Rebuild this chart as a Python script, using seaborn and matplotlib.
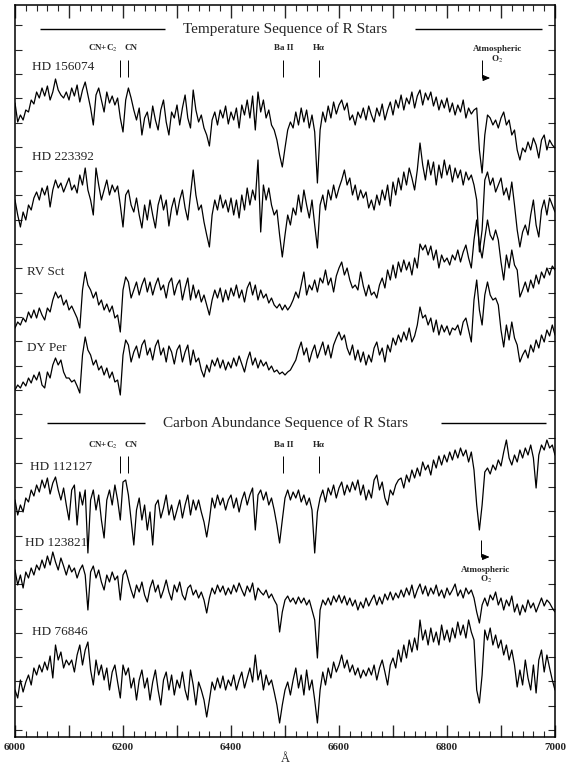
import numpy as np
import pandas as pd
import seaborn as sns
import matplotlib.pyplot as plt

# sampling grid of the spectra (Angstrom)
wavelength = np.arange(6000, 7001, 5)

stars = ["HD 156074", "HD 223392", "RV Sct", "DY Per", "HD 112127", "HD 123821", "HD 76846"]
# vertical offset applied to each spectrum (arbitrary flux units)
offsets = [617, 527, 437, 377, 237, 147, 57]

# relative flux, 5 A steps, 20 values per 100 A
hd156074 = [17, -2, 5, 0, 10, 8, 20, 16, 28, 22, 32, 24, 34, 20, 28, 41, 30, 25, 22, 28,
            20, 32, 24, 35, 18, 30, 38, 25, 12, -5, 25, 32, 20, 8, 28, 17, 24, 15, 22, 2,
            -12, 20, 32, 22, 10, 0, 12, -15, 2, 8, -8, 14, 0, -10, 10, 20, -2, -15, 8, 2,
            15, -5, 12, 25, 2, -8, 30, 10, -2, 5, -8, -15, -26, 0, 8, -5, 10, 2, 14, -4,
            8, 0, 12, -8, 15, 5, 20, 2, 24, -10, 28, 8, 20, 2, 10, -5, -10, -20, -35, -47,
            -28, -10, -2, -8, 8, -5, 12, -2, 10, -8, 5, -12, -63, -10, 8, -2, 14, 2, 18, 6,
            15, 20, 10, 17, 0, 5, -5, 8, 2, 12, 0, 14, 5, -2, 12, 4, 16, 0, 10, 18,
            5, 20, 12, 25, 10, 22, 16, 28, 12, 24, 30, 15, 27, 20, 28, 14, 23, 10, 20, 12,
            22, 8, 17, 5, 15, 8, 20, 2, 12, 6, 10, 12, -30, -53, -15, 5, 2, -5, 0, -8,
            2, 8, -5, 0, -15, -10, -30, -40, -28, -32, -22, -30, -18, -25, -38, -20, -15, -30, -20, -25,
            -28]
hd223392 = [10, -5, -17, -2, -10, 5, 0, 12, 18, 10, 22, 15, 24, 3, 20, 30, 22, 27, 18, 25,
            32, 20, 25, 17, 35, 25, 42, 20, 10, -5, 42, 25, 10, 20, 30, 15, 25, 18, 24, 5,
            -17, 15, 20, 5, -2, 12, -5, -18, 5, -10, 10, -5, -18, 5, 15, 0, 10, -16, 2, 12,
            -5, 10, 20, 2, -10, 15, 40, 15, 0, 5, -12, -25, -37, -5, 10, 0, 15, 2, 10, -2,
            12, -5, 10, -8, 15, 0, 22, 5, 20, 10, 50, -22, 25, 10, 22, 5, -5, 0, -25, -47,
            -25, -5, -15, 2, -5, 15, -2, 20, 5, -8, 10, -15, -38, 5, 15, 0, 20, 10, 25, 12,
            22, 30, 40, 25, 32, 15, 25, 10, 20, 12, 18, 2, 10, 0, 15, 5, 20, 10, 25, 4,
            28, 15, 32, 20, 38, 25, 42, 32, 20, 40, 67, 45, 30, 50, 35, 48, 25, 45, 32, 50,
            35, 45, 28, 42, 32, 40, 25, 38, 30, 35, 25, 10, -42, -20, 30, 38, 25, 32, 18, 25,
            32, 15, 22, 10, 28, 5, -20, -37, -22, -15, -25, -5, 10, -15, -27, 0, 10, -5, 12, 5,
            -2]
rv_sct = [-28, -22, -25, -18, -22, -12, -18, -10, -18, -8, -15, -20, -8, -12, 0, 8, 2, 5, -5, 0,
          -10, -6, -12, -18, -28, 10, 28, 15, 10, 2, 8, -5, 0, -10, -4, -12, -6, -18, -15, -32,
          10, 23, 18, 2, 10, 18, 5, 15, 22, 8, 18, 5, 15, 22, 10, 15, 2, 17, 22, 5,
          15, 20, 0, 12, 22, 0, 15, 2, 10, -2, 5, -5, -15, 0, 10, 2, 12, -2, 10, 0,
          12, 4, 15, 2, 10, -2, 12, 18, 5, 15, 0, 10, 2, 6, -3, 2, -5, -8, -4, -10,
          -5, -10, -6, 0, 8, 2, 15, 28, 5, 15, 10, 20, 8, 22, 17, 30, 15, 22, 8, 24,
          32, 38, 25, 32, 20, 12, 15, 10, 28, 14, 4, 15, 5, 8, 2, 15, 22, 12, 30, 20,
          35, 22, 38, 28, 40, 30, 38, 25, 42, 32, 56, 50, 55, 45, 54, 40, 50, 32, 45, 38,
          42, 35, 45, 40, 50, 38, 48, 55, 42, 32, 60, 80, 55, 42, 62, 80, 65, 60, 70, 60,
          38, 20, 45, 32, 50, 35, 30, 3, 10, 18, 8, 20, 12, 25, 16, 28, 22, 32, 25, 34,
          30]
dy_per = [-30, -25, -28, -22, -26, -18, -23, -15, -20, -12, -25, -28, -12, -18, -5, 2, -5, 0, -12, -18,
          -18, -22, -20, -26, -33, 5, 23, 10, 5, -5, 0, -10, -6, -15, -8, -18, -12, -22, -20, -35,
          5, 20, 15, -2, 8, 14, 2, 15, 20, 5, 12, 0, 14, 20, 5, 12, -2, 14, 8, -4,
          10, 15, -2, 8, 15, -5, 10, -2, 2, -10, -17, -5, -12, 0, -6, 2, -8, 0, -10, -2,
          -8, 2, -6, 4, -4, -12, 0, 8, -5, 2, -8, 0, -6, -2, -10, -6, -12, -10, -14, -12,
          -15, -12, -10, -5, 0, 10, 18, 5, 12, -2, 8, 15, 2, 10, 18, 5, 15, 2, 15, 22,
          28, 20, 25, 12, 5, 15, 0, 10, -2, 8, -5, 5, -2, 12, 18, 5, 12, -2, 15, 8,
          22, 15, 25, 18, 28, 20, 32, 18, 24, 35, 53, 42, 45, 35, 42, 28, 40, 25, 35, 28,
          34, 25, 32, 30, 35, 25, 38, 42, 30, 18, 60, 80, 50, 35, 65, 78, 65, 60, 62, 55,
          30, 13, 35, 20, 38, 22, 15, -2, 5, 10, 2, 15, 8, 20, 12, 25, 18, 30, 24, 35,
          25]
hd112127 = [0, -15, -5, -12, 2, -2, 10, 4, 15, 8, 20, 12, 22, 6, 17, 23, 10, 0, 12, -5,
            -20, 10, 15, -25, 8, -5, 10, -53, 0, 10, -10, 5, -20, -38, 0, 10, -5, 15, 0, -20,
            18, 20, 5, -20, -45, -10, 2, -20, -5, -30, -12, -45, -5, 0, -18, -8, 5, -15, -5, -20,
            -10, 0, -18, -5, 5, -15, 0, -10, 0, -12, -22, -37, -20, 2, -8, 5, -5, 2, -10, 0,
            5, -8, 2, -12, 0, 8, -5, 5, 12, -30, 5, 10, 0, 8, -5, 2, -10, -25, -43, -20,
            2, 10, 0, 8, 2, 10, -2, 5, -5, 2, -10, -53, -12, 2, 10, -2, 12, 5, 15, 2,
            12, 18, 5, 15, 8, 18, 10, 20, 5, 15, 0, 10, 2, 20, 25, 10, 18, 2, -5, 10,
            5, 15, 20, 22, 12, 25, 18, 30, 22, 32, 24, 38, 30, 35, 25, 40, 32, 44, 35, 45,
            38, 48, 40, 50, 42, 52, 44, 50, 38, 48, 30, -5, -30, -5, 28, 32, 26, 35, 30, 40,
            34, 48, 60, 42, 35, 45, 38, 50, 42, 52, 45, 55, 42, 12, 45, 55, 50, 60, 52, 55,
            45]
hd123821 = [20, 5, 15, 2, 18, 12, 22, 15, 25, 20, 30, 22, 34, 25, 38, 28, 20, 32, 24, 15,
            25, 18, 22, 12, 20, 25, 15, -20, 18, 24, 12, 20, 8, 0, 15, 8, 18, 10, 14, -10,
            15, 20, 10, 0, -8, 5, -2, 8, -5, -12, 2, 10, -2, 5, -8, 0, 10, -2, -10, 5,
            -2, 8, -5, -10, 2, 5, -5, 0, -8, -2, -10, -23, -8, 2, -4, 5, -2, 4, -5, 2,
            -4, 5, -2, 7, 0, -6, 4, -2, 7, -10, 2, -2, -5, 0, -8, -4, -10, -15, -42, -22,
            -10, -6, -12, -8, -14, -7, -13, -8, -15, -10, -20, -30, -68, -20, -10, -15, -8, -15, -6, -12,
            -5, -13, -6, -15, -8, -16, -10, -20, -12, -18, -8, -16, -10, -5, -15, -7, -14, -4, -10, -2,
            -10, -3, -8, 0, -7, 2, -5, 5, -8, 0, 6, -4, 4, -6, 2, -4, 5, -6, 0, -8,
            2, -5, 0, 6, -6, 0, -8, 2, -4, 0, -8, -22, -33, -15, -8, -16, -5, -10, -2, -15,
            -8, -20, -10, -16, -6, -22, -14, -25, -15, -22, -10, -18, -13, -22, -15, -8, -16, -10, -13, -18,
            -22]
hd76846 = [-10, -18, 0, -12, -2, 5, -5, 12, 5, 15, 8, 18, 10, 24, 2, 35, 20, 28, 12, 20,
           15, 20, 8, 25, 35, 15, 30, 38, 10, -5, 20, 5, 15, 0, 12, -10, 8, 15, -2, -18,
           15, 5, 12, -8, 2, -20, 0, 10, -8, 2, -20, -2, 10, -10, -25, 0, 8, -10, 5, -15,
           0, -8, 8, -10, -20, 10, -5, -25, -2, -10, -20, -37, -20, -2, -10, 2, -8, 4, -10, 0,
           -6, 5, -10, 0, 8, -8, 2, 12, -2, 25, 0, 10, -10, 5, -5, 0, -12, -25, -43, -25,
           -10, -2, -15, 0, 12, -8, 5, -15, 10, -10, 0, -20, -43, -10, 8, -5, 12, 2, 18, 8,
           15, 25, 12, 20, 8, 15, 5, 12, 2, 10, 4, 12, 5, 15, 0, 12, 20, 8, -5, 15,
           22, 12, 30, 18, 35, 22, 40, 28, 42, 30, 60, 40, 50, 35, 52, 38, 48, 35, 55, 40,
           50, 38, 52, 42, 58, 45, 55, 42, 60, 48, 40, -10, -23, 5, 50, 40, 52, 35, 45, 32,
           40, 25, 35, 20, 30, 15, -7, 10, -5, 20, 2, -10, 15, -13, 20, 30, 8, 25, 12, 0,
           -10]

spectra = [hd156074, hd223392, rv_sct, dy_per, hd112127, hd123821, hd76846]

frames = []
for star, off, flux in zip(stars, offsets, spectra):
    frames.append(pd.DataFrame({"wavelength": wavelength,
                                "flux": np.asarray(flux) + off,
                                "star": star}))
df = pd.concat(frames, ignore_index=True)

sns.set_theme(style="ticks")
plt.rcParams["font.family"] = ["Liberation Serif", "DejaVu Serif"]
plt.rcParams["mathtext.fontset"] = "stix"

fig = plt.figure(figsize=(5.7, 7.7), dpi=100)
ax = fig.add_axes([15 / 570, 33 / 770, 540 / 570, 732 / 770])

sns.lineplot(data=df, x="wavelength", y="flux", hue="star", units="star",
             estimator=None, sort=False, palette=["black"] * len(stars),
             legend=False, linewidth=0.9, ax=ax)

ax.set_xlim(6000, 7000)
ax.set_ylim(0, 732)

# ticks: inward on all four sides, no y labels
ax.set_xticks(np.arange(6000, 7001, 100))
ax.set_xticklabels([str(v) if v % 200 == 0 else "" for v in range(6000, 7001, 100)])
ax.set_xticks(np.arange(6000, 7001, 20), minor=True)
ax.set_yticks(7 + 24.3 * np.arange(30))
ax.set_yticklabels([])
ax.tick_params(axis="x", which="major", direction="in", length=9, width=1,
               top=True, bottom=True, labelsize=8, pad=4)
ax.tick_params(axis="x", which="minor", direction="in", length=4.5, width=0.8,
               top=True, bottom=True)
ax.tick_params(axis="y", direction="in", length=5, width=0.8, left=True, right=True)
for lab in ax.get_xticklabels():
    lab.set_fontweight("bold")
for s in ax.spines.values():
    s.set_linewidth(1.1)
    s.set_color("black")
ax.set_xlabel("Å", fontsize=9, labelpad=1)
ax.set_ylabel("")

# section headings with rules
ax.text(6500, 708, "Temperature Sequence of R Stars", ha="center", va="center", fontsize=11)
ax.hlines(708, 6046, 6278, color="black", lw=1)
ax.hlines(708, 6741, 6976, color="black", lw=1)
ax.text(6500, 314, "Carbon Abundance Sequence of R Stars", ha="center", va="center", fontsize=11)
ax.hlines(314, 6059, 6241, color="black", lw=1)
ax.hlines(314, 6789, 6983, color="black", lw=1)

# star names
name_pos = [(6031, 670), (6031, 580), (6022, 465), (6022, 389),
            (6028, 270), (6019, 194), (6031, 105)]
for star, (xs, ys) in zip(stars, name_pos):
    ax.text(xs, ys, star, ha="left", va="center", fontsize=9.5)

# line identifications
small = dict(va="center", fontsize=6.5, fontweight="bold")
for base, lab_y in [(660, 689), (264, 292)]:
    ax.vlines([6195, 6210, 6497, 6563], base, base + 17, color="black", lw=0.7)
    ax.text(6190, lab_y, "CN+C$_2$", ha="right", **small)
    ax.text(6202, lab_y, "CN", ha="left", **small)
    ax.text(6497, lab_y, "Ba II", ha="center", **small)
    ax.text(6563, lab_y, "Hα", ha="center", **small)

# atmospheric O2 markers
ax.vlines(6865, 659, 677, color="black", lw=0.7)
ax.annotate("", xy=(6885, 659), xytext=(6864, 659),
            arrowprops=dict(arrowstyle="-|>,head_length=0.35,head_width=0.15", lw=0.7, color="black"))
ax.text(6893, 688, "Atmospheric", ha="center", **small)
ax.text(6893, 678, "O$_2$", ha="center", **small)

ax.vlines(6863, 180, 197, color="black", lw=0.7)
ax.annotate("", xy=(6884, 180), xytext=(6862, 180),
            arrowprops=dict(arrowstyle="-|>,head_length=0.35,head_width=0.15", lw=0.7, color="black"))
ax.text(6872, 167, "Atmospheric", ha="center", **small)
ax.text(6872, 158, "O$_2$", ha="center", **small)

fig.savefig("out.png", dpi=100)
